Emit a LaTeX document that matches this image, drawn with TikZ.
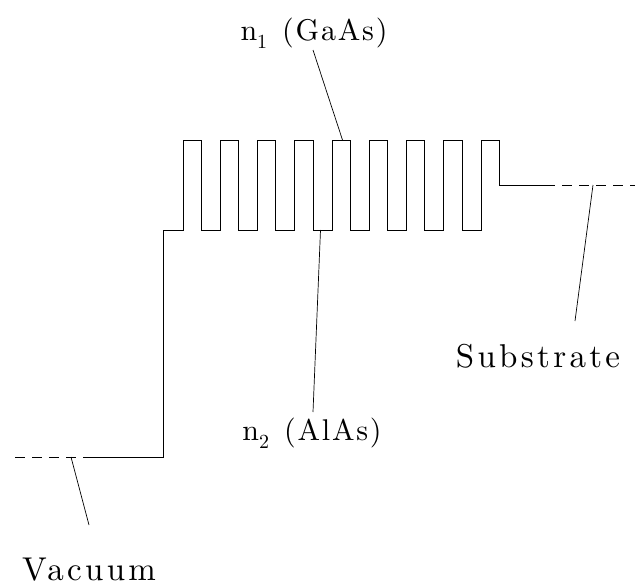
\documentclass[tikz,border=0pt]{standalone}
\usepackage{amsmath}
\usepackage{fontspec}
\newfontfamily\lblfont{lmroman10-regular}[Extension=.otf, LetterSpace=10]
\newfontfamily\nfont{lmroman10-regular}[Extension=.otf, LetterSpace=6]

\begin{document}
\begin{tikzpicture}[
    x=1pt, y=-1pt,
    prof/.style={line width=1pt, line join=miter},
    dashprof/.style={line width=1pt, dash pattern=on 10pt off 7pt},
    lead/.style={line width=0.7pt},
    lbl/.style={font=\lblfont\fontsize{33}{36}\selectfont, inner sep=0pt, anchor=base},
    nlbl/.style={lbl, font=\nfont\fontsize{30}{33}\selectfont}
]
    \useasboundingbox (0,0) rectangle (640,586);%page size as the picture

    \pgfmathsetmacro{\per}{37.25}%period of the stack
    \pgfmathsetmacro{\wid}{18.3}%width of one GaAs layer

    % index profile
    \draw[dashprof] (15,457) -- (88,457);
    \draw[prof] (88,457) -- (163,457) -- (163,230) -- (183,230)
        foreach \i in {0,...,7}{
            -- (183+\per*\i,230) -- (183+\per*\i,140) -- (183+\wid+\per*\i,140)
            -- (183+\wid+\per*\i,230) -- (183+\per*\i+\per,230)
        }
        -- (481,140) -- (499.3,140) -- (499.3,185) -- (545,185);
    \draw[dashprof] (545,185) -- (635,185);

    % ends of the leaders
    \coordinate (vac) at (71,457);
    \coordinate (vac end) at (89,525);
    \coordinate (sub) at (593,185);
    \coordinate (sub end) at (575,321);
    \coordinate (gaas) at (342.5,140);
    \coordinate (gaas end) at (313,50);
    \coordinate (alas) at (320.5,230);
    \coordinate (alas end) at (313,412);

    % labels
    \node[lbl] (vacuum) at (89,580) {Vacuum};
    \node[lbl] (substrate) at (538,367) {Substrate};
    \node[nlbl] (n1) at (314,41) {n\raisebox{-8pt}{\fontsize{20}{22}\selectfont 1}\enspace(GaAs)};
    \node[nlbl] (n2) at (312,440) {n\raisebox{-8pt}{\fontsize{20}{22}\selectfont 2}\enspace(AlAs)};

    \draw[lead] (vac) -- (vac end);
    \draw[lead] (sub) -- (sub end);
    \draw[lead] (gaas) -- (gaas end);
    \draw[lead] (alas) -- (alas end);
\end{tikzpicture}
\end{document}
